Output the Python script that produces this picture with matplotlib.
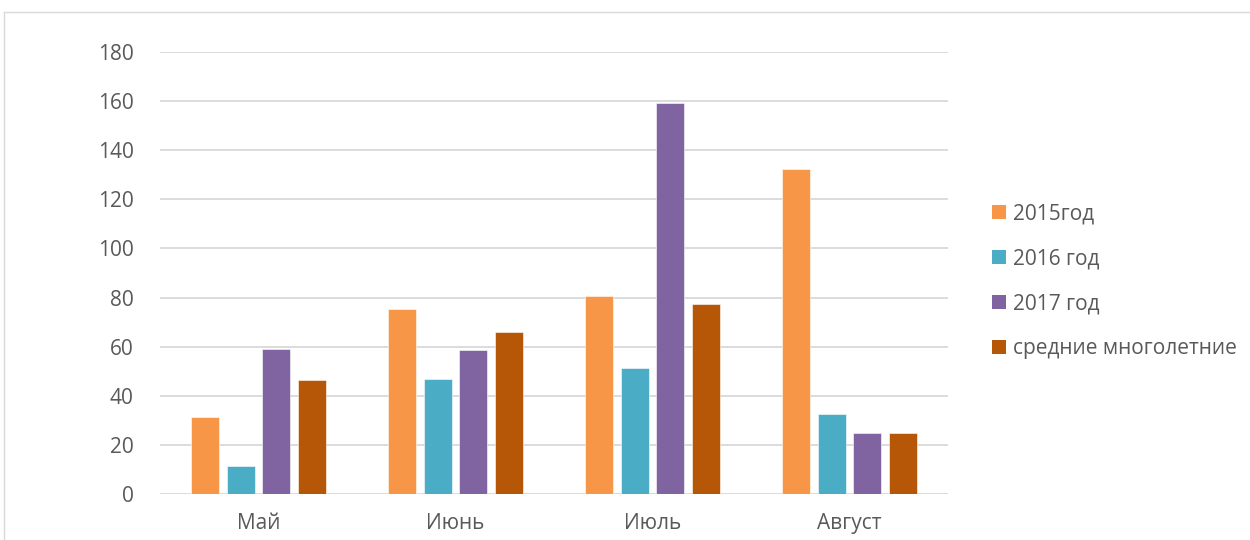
import matplotlib
matplotlib.use("Agg")
import matplotlib.pyplot as plt
import numpy as np
from matplotlib.patches import Patch
from matplotlib.lines import Line2D

categories = ["Май", "Июнь", "Июль", "Август"]
series_names = ["2015год", "2016 год", "2017 год", "средние многолетние"]
v2015 = [31.2, 75.2, 80.6, 132.2]
v2016 = [11.4, 46.8, 51.2, 32.4]
v2017 = [59.0, 58.8, 159.1, 24.7]
vavg = [46.3, 66.1, 77.2, 24.7]
y_ticks = [0, 20, 40, 60, 80, 100, 120, 140, 160, 180]

colors = ["#F79646", "#4BACC6", "#8064A2", "#B65708"]
txt = "#595959"
grid = "#D9D9D9"

plt.rcParams['font.family'] = ['Open Sans', 'DejaVu Sans']

fig = plt.figure(figsize=(12.5, 5.4), dpi=100)
ax = fig.add_axes([0.128, 0.0852, 0.6304, 0.8185])

x = np.arange(len(categories))
step = 0.182
width = 0.142
allv = [v2015, v2016, v2017, vavg]
for i, (vals, c, name) in enumerate(zip(allv, colors, series_names)):
    ax.bar(x + (i - 1.5) * step, vals, width=width, color=c, label=name,
           edgecolor="white", linewidth=0.4, zorder=3)

ax.set_xlim(-0.5, len(categories) - 0.5)
ax.set_ylim(0, 180)
ax.set_yticks(y_ticks)
ax.set_xticks(x)
ax.set_xticklabels(categories)
ax.yaxis.grid(True, color=grid, linewidth=1.3, zorder=0)
ax.set_axisbelow(True)
for s in ax.spines.values():
    s.set_visible(False)
ax.tick_params(axis='both', length=0, labelsize=15, colors=txt)
ax.tick_params(axis='y', pad=19)
ax.tick_params(axis='x', pad=14)

# outer frame (chart area border)
fig.add_artist(Line2D([4/1250, 1.01], [1 - 12/540, 1 - 12/540], color=grid, linewidth=1.0, transform=fig.transFigure))
fig.add_artist(Line2D([4/1250, 4/1250], [-0.01, 1 - 12/540], color=grid, linewidth=1.0, transform=fig.transFigure))

handles = [Patch(facecolor=c, edgecolor='none') for c in colors]
leg = fig.legend(handles, series_names, loc='center left', bbox_to_anchor=(0.7936, 0.479),
                 frameon=False, fontsize=15, handlelength=0.65, handleheight=0.65,
                 handletextpad=0.35, labelspacing=1.15, borderpad=0, borderaxespad=0)
for t in leg.get_texts():
    t.set_color(txt)

fig.savefig("out.png", dpi=100)
